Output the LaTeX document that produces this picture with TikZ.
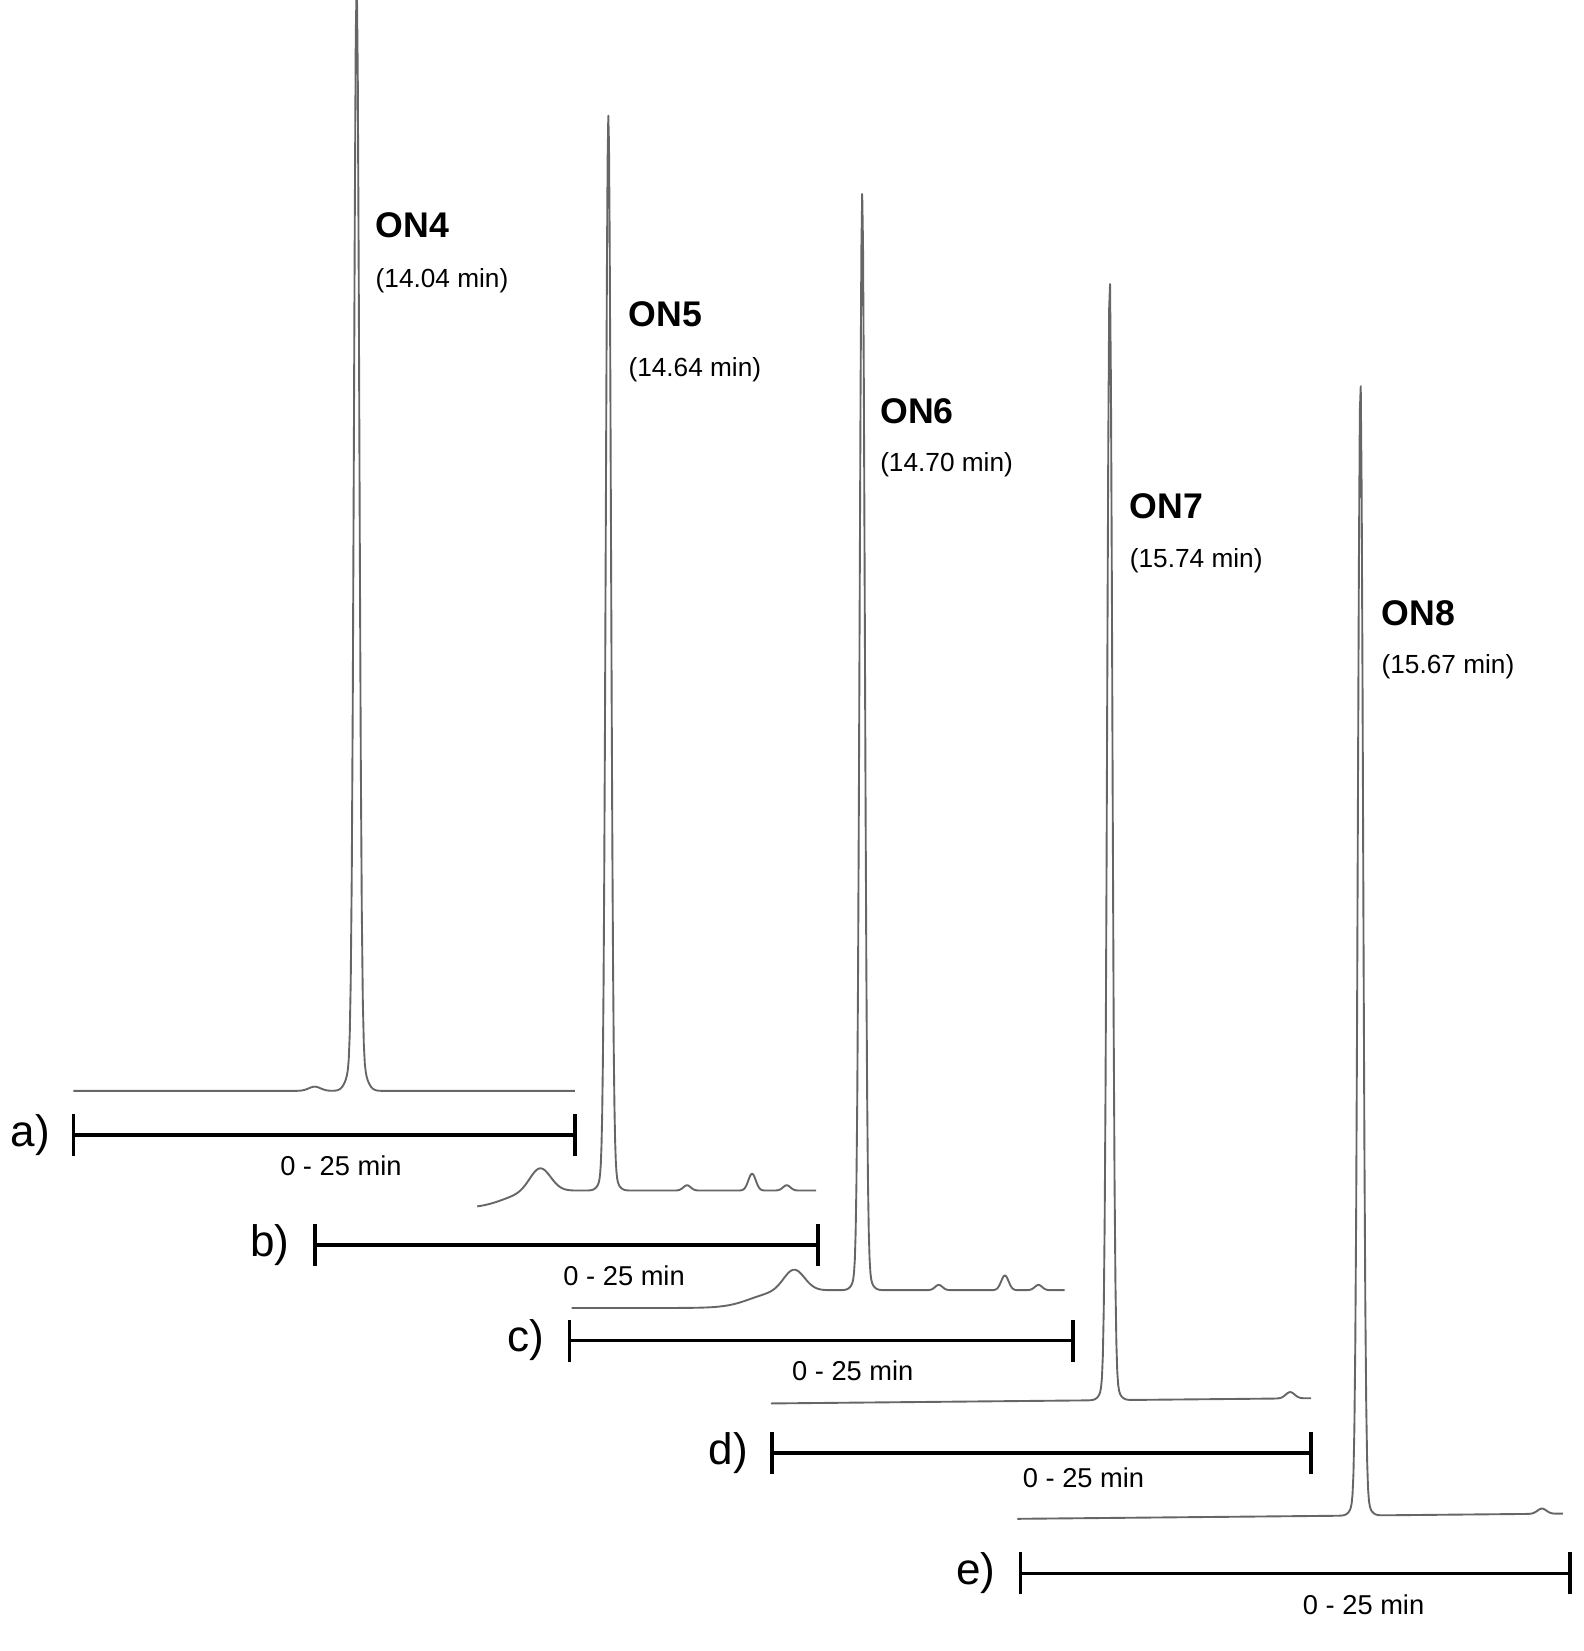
\documentclass[tikz,border=0pt]{standalone}
\usepackage{fontspec}
\setmainfont{Liberation Sans}
\begin{document}
\begin{tikzpicture}[x=1pt,y=-1pt,
  trace/.style={draw=black!60,line width=1.8pt,line join=round},
  barline/.style={line width=3.5pt},
  onlab/.style={anchor=west,font=\fontsize{34}{36}\selectfont\bfseries,inner sep=0},
  tlab/.style={anchor=west,font=\fontsize{25}{28}\selectfont,inner sep=0},
  plab/.style={anchor=east,font=\fontsize{42}{44}\selectfont,inner sep=0},
  rlab/.style={font=\fontsize{26}{28}\selectfont,inner sep=0}]
\useasboundingbox (0,0) rectangle (1510,1574);
% a
\draw[trace] plot[domain=70:548,samples=500] (\x,{1040 - 1023*exp(-((\x-340)/3.5)^2) - 40*exp(-((\x-340)/9)^2) - 4*exp(-((\x-300)/8)^2)});
% b
\draw[trace] plot[domain=455:778,samples=500] (\x,{1152 - 17/(1+exp(-max(min((\x-480)/12,8),-8))) - 22*exp(-((\x-515)/14)^2) - 1000*exp(-((\x-580)/3.5)^2) - 25*exp(-((\x-580)/8)^2) - 5*exp(-((\x-655)/5)^2) - 16*exp(-((\x-717)/5)^2) - 5*exp(-((\x-750)/5)^2)});
% c
\draw[trace] plot[domain=545:1015,samples=600] (\x,{1247 - 17/(1+exp(-max(min((\x-715)/12,8),-8))) - 20*exp(-((\x-757)/14)^2) - 1020*exp(-((\x-822)/3.5)^2) - 25*exp(-((\x-822)/8)^2) - 5*exp(-((\x-895)/5)^2) - 14*exp(-((\x-958)/5)^2) - 5*exp(-((\x-990)/5)^2)});
% d
\draw[trace] plot[domain=735:1250,samples=600] (\x,{1338 - 5*(\x-735)/515 - 1045*exp(-((\x-1058)/3.5)^2) - 25*exp(-((\x-1058)/8)^2) - 6*exp(-((\x-1230)/6)^2)});
% e
\draw[trace] plot[domain=970:1490,samples=600] (\x,{1448 - 5*(\x-970)/520 - 1058*exp(-((\x-1297)/3.5)^2) - 25*exp(-((\x-1297)/8)^2) - 5*exp(-((\x-1470)/6)^2)});
% bars
\foreach \n/\xa/\xb/\yy/\lx/\lbl in {a/70/548/1082/48/a), b/300/780/1187/276/b), c/543/1023/1278/519/c), d/736/1250/1385/713/d), e/973/1497/1500/949/e)}{
  \coordinate (\n L) at (\xa,\yy); \coordinate (\n R) at (\xb,\yy);
  \draw[barline] (\n L) -- (\n R);
  \draw[barline] ([yshift=-20]\n L) -- ([yshift=20]\n L);
  \draw[barline] ([yshift=-20]\n R) -- ([yshift=20]\n R);
  \node[plab] (\n lab) at (\lx,\yy) {\lbl};
}
\node[rlab] (ra) at (325,1111) {0 - 25 min};
\node[rlab] (rb) at (595,1216) {0 - 25 min};
\node[rlab] (rc) at (813,1307) {0 - 25 min};
\node[rlab] (rd) at (1033,1409) {0 - 25 min};
\node[rlab] (re) at (1300,1530) {0 - 25 min};
\node[onlab] (on4) at (358,215) {ON4};
\node[tlab] (t4) at (358,268) {(14.04 min)};
\node[onlab] (on5) at (599,300) {ON5};
\node[tlab] (t5) at (599,352) {(14.64 min)};
\node[onlab] (on6) at (839,392) {ON6};
\node[tlab] (t6) at (839,443) {(14.70 min)};
\node[onlab] (on7) at (1077,483) {ON7};
\node[tlab] (t7) at (1077,535) {(15.74 min)};
\node[onlab] (on8) at (1317,585) {ON8};
\node[tlab] (t8) at (1317,636) {(15.67 min)};
\end{tikzpicture}
\end{document}
